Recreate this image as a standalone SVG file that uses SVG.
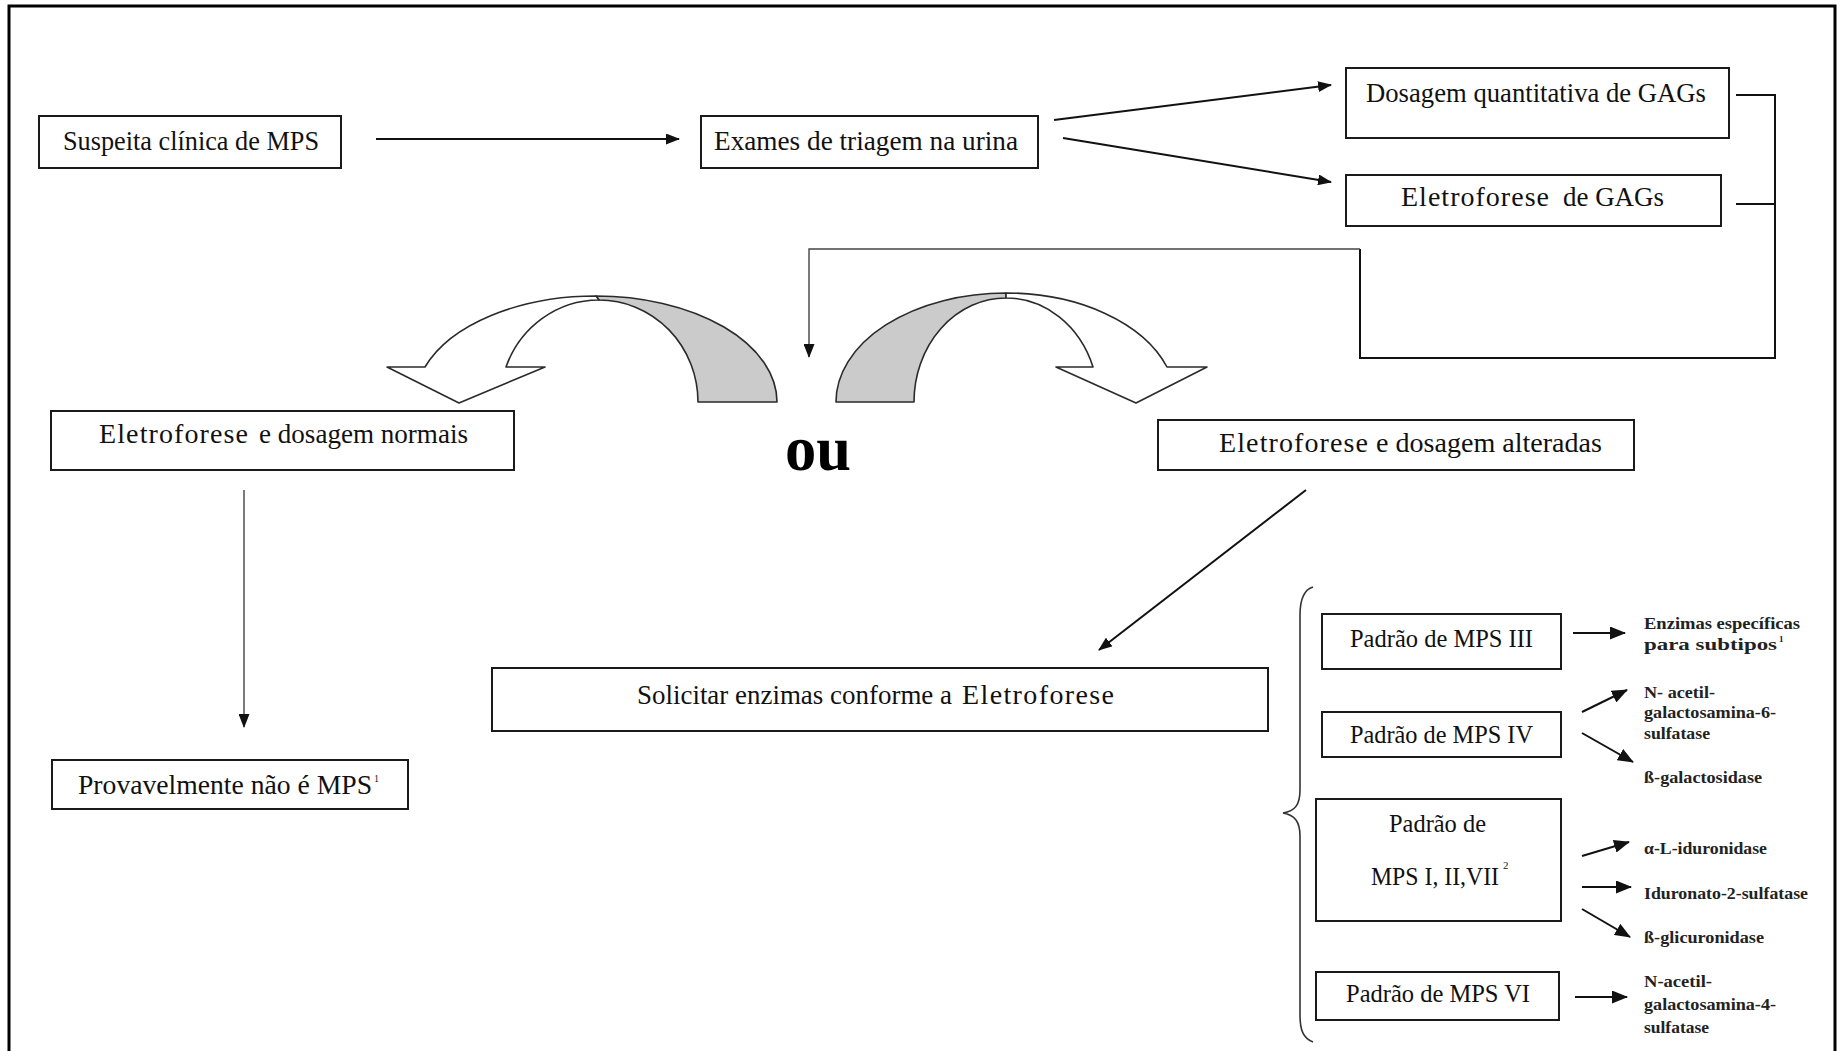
<svg xmlns="http://www.w3.org/2000/svg" width="1843" height="1051" viewBox="0 0 1843 1051">
<style>
.box{fill:#fff;stroke:#1a1a1a;stroke-width:2}
.t{font-family:"Liberation Serif","Times New Roman",serif;font-size:28px;fill:#111}
.p{font-family:"Liberation Serif","Times New Roman",serif;font-size:25px;fill:#111}
.s{font-family:"Liberation Serif","Times New Roman",serif;font-size:17px;font-weight:bold;fill:#222}
.sup{font-family:"Liberation Serif","Times New Roman",serif;fill:#222}
.ln{fill:none;stroke:#111;stroke-width:2}
.gl{fill:none;stroke:#444;stroke-width:1.4}
.cw{fill:#fff;stroke:#2a2a2a;stroke-width:1.6;stroke-linejoin:round}
.cg{fill:#cbcbcb;stroke:#2a2a2a;stroke-width:1.6;stroke-linejoin:round}
</style>
<defs>
<marker id="ah" markerUnits="userSpaceOnUse" markerWidth="14" markerHeight="11" refX="13" refY="5.5" orient="auto">
<path d="M0,0 L14,5.5 L0,11 z" fill="#111"/>
</marker>
<marker id="ahs" markerUnits="userSpaceOnUse" markerWidth="16" markerHeight="13" refX="15" refY="6.5" orient="auto">
<path d="M0,0 L16,6.5 L0,13 z" fill="#111"/>
</marker>
</defs>
<rect width="1843" height="1051" fill="#fff"/>
<path d="M9,1051 V6 H1835 V1051" fill="none" stroke="#000" stroke-width="3"/>

<g id="connectors">
<line class="ln" x1="376" y1="139" x2="679" y2="139" marker-end="url(#ah)"/>
<line class="ln" x1="1054" y1="120" x2="1331" y2="85" marker-end="url(#ah)"/>
<line class="ln" x1="1063" y1="138" x2="1331" y2="182" marker-end="url(#ah)"/>
<path class="ln" d="M1736,95 H1775 V358 H1360 V249"/>
<line class="ln" x1="1736" y1="204" x2="1775" y2="204"/>
<path class="gl" d="M1360,249 H809 V357" marker-end="url(#ah)"/>
<line class="gl" x1="244" y1="490" x2="244" y2="727" marker-end="url(#ah)"/>
<line class="ln" x1="1306" y1="490" x2="1099" y2="650" marker-end="url(#ah)"/>
<line class="ln" x1="1573" y1="633" x2="1625" y2="633" marker-end="url(#ahs)"/>
<line class="ln" x1="1582" y1="712" x2="1627" y2="690" marker-end="url(#ahs)"/>
<line class="ln" x1="1582" y1="733" x2="1633" y2="762" marker-end="url(#ahs)"/>
<line class="ln" x1="1582" y1="856" x2="1629" y2="842" marker-end="url(#ahs)"/>
<line class="ln" x1="1582" y1="887" x2="1631" y2="887" marker-end="url(#ahs)"/>
<line class="ln" x1="1582" y1="909" x2="1630" y2="937" marker-end="url(#ahs)"/>
<line class="ln" x1="1575" y1="997" x2="1627" y2="997" marker-end="url(#ahs)"/>
</g>

<g id="curved-left">
<path class="cg" d="M599,300 A99 102 0 0 1 698,402 L777,402 A181 106 0 0 0 596,296 Z"/>
<path class="cw" d="M506,367 L545,367 L459,403 L387,367 L425,367 A181 106 0 0 1 596,296 L599,300 A99 102 0 0 0 506,367 Z"/>
</g>
<g id="curved-right">
<path class="cg" d="M836,402 A170 109 0 0 1 1006,293 L1006,298 A92 104 0 0 0 914,402 Z"/>
<path class="cw" d="M1093,367 L1056,367 L1136,403 L1207,367 L1167,367 A170 109 0 0 0 1006,293 L1006,298 A92 104 0 0 1 1093,367 Z"/>
</g>

<g id="ou"><text x="785" y="470" font-family="Liberation Serif, Times New Roman, serif" font-size="64" font-weight="bold" fill="#000" textLength="66" lengthAdjust="spacingAndGlyphs">ou</text></g>

<g id="n-suspeita">
<rect class="box" x="39" y="116" width="302" height="52"/>
<text class="t" x="63" y="150" textLength="256" lengthAdjust="spacingAndGlyphs">Suspeita clínica de MPS</text>
</g>
<g id="n-exames">
<rect class="box" x="701" y="116" width="337" height="52"/>
<text class="t" x="714" y="150" textLength="304" lengthAdjust="spacingAndGlyphs">Exames de triagem na urina</text>
</g>
<g id="n-dosagem">
<rect class="box" x="1346" y="68" width="383" height="70"/>
<text class="t" x="1366" y="102" textLength="340" lengthAdjust="spacingAndGlyphs">Dosagem quantitativa de GAGs</text>
</g>
<g id="n-eletro-gags">
<rect class="box" x="1346" y="175" width="375" height="51"/>
<text class="t" x="1401" y="206" textLength="148" lengthAdjust="spacing">Eletroforese</text>
<text class="t" x="1563" y="206" textLength="101" lengthAdjust="spacingAndGlyphs">de GAGs</text>
</g>
<g id="n-normais">
<rect class="box" x="51" y="411" width="463" height="59"/>
<text class="t" x="99" y="443" textLength="149" lengthAdjust="spacing">Eletroforese</text>
<text class="t" x="259" y="443" textLength="209" lengthAdjust="spacingAndGlyphs">e dosagem normais</text>
</g>
<g id="n-alteradas">
<rect class="box" x="1158" y="420" width="476" height="50"/>
<text class="t" x="1219" y="452" textLength="149" lengthAdjust="spacing">Eletroforese</text>
<text class="t" x="1376" y="452" textLength="226" lengthAdjust="spacingAndGlyphs">e dosagem alteradas</text>
</g>
<g id="n-solicitar">
<rect class="box" x="492" y="668" width="776" height="63"/>
<text class="t" x="637" y="704" textLength="315" lengthAdjust="spacingAndGlyphs">Solicitar enzimas conforme a</text>
<text class="t" x="962" y="704" textLength="152" lengthAdjust="spacing">Eletroforese</text>
</g>
<g id="n-provavelmente">
<rect class="box" x="52" y="760" width="356" height="49"/>
<text class="t" x="78" y="794" textLength="294" lengthAdjust="spacingAndGlyphs">Provavelmente não é MPS</text>
<text class="sup" x="374" y="782" font-size="10">1</text>
</g>

<g id="brace">
<path fill="none" stroke="#333" stroke-width="1.6" d="M1313,587 C1303,590 1300,600 1300,615 L1300,790 C1300,805 1295,811 1283,813 C1295,815 1300,822 1300,836 L1300,1015 C1300,1030 1303,1038 1313,1042"/>
</g>

<g id="n-mps3">
<rect class="box" x="1322" y="614" width="239" height="55"/>
<text class="p" x="1350" y="647" textLength="183" lengthAdjust="spacingAndGlyphs">Padrão de MPS III</text>
</g>
<g id="n-mps4">
<rect class="box" x="1322" y="712" width="239" height="45"/>
<text class="p" x="1350" y="743" textLength="183" lengthAdjust="spacingAndGlyphs">Padrão de MPS IV</text>
</g>
<g id="n-mps127">
<rect class="box" x="1316" y="799" width="245" height="122"/>
<text class="p" x="1389" y="832" textLength="97" lengthAdjust="spacingAndGlyphs">Padrão de</text>
<text class="p" x="1371" y="885" textLength="128" lengthAdjust="spacingAndGlyphs">MPS I, II,VII</text>
<text class="sup" x="1503" y="869" font-size="11">2</text>
</g>
<g id="n-mps6">
<rect class="box" x="1316" y="972" width="243" height="48"/>
<text class="p" x="1346" y="1002" textLength="184" lengthAdjust="spacingAndGlyphs">Padrão de MPS VI</text>
</g>

<g id="e-mps3">
<text class="s" x="1644" y="629" textLength="156" lengthAdjust="spacingAndGlyphs">Enzimas específicas</text>
<text class="s" x="1644" y="650" textLength="133" lengthAdjust="spacingAndGlyphs">para subtipos</text>
<text class="sup" x="1779" y="642" font-size="9" font-weight="bold">1</text>
</g>
<g id="e-mps4a">
<text class="s" x="1644" y="698" textLength="71" lengthAdjust="spacingAndGlyphs">N- acetil-</text>
<text class="s" x="1644" y="718" textLength="132" lengthAdjust="spacingAndGlyphs">galactosamina-6-</text>
<text class="s" x="1644" y="739" textLength="66" lengthAdjust="spacingAndGlyphs">sulfatase</text>
</g>
<g id="e-mps4b"><text class="s" x="1644" y="783" textLength="118" lengthAdjust="spacingAndGlyphs">ß-galactosidase</text></g>
<g id="e-idu"><text class="s" x="1644" y="854" textLength="123" lengthAdjust="spacingAndGlyphs">α-L-iduronidase</text></g>
<g id="e-i2s"><text class="s" x="1644" y="899" textLength="164" lengthAdjust="spacingAndGlyphs">Iduronato-2-sulfatase</text></g>
<g id="e-glic"><text class="s" x="1644" y="943" textLength="120" lengthAdjust="spacingAndGlyphs">ß-glicuronidase</text></g>
<g id="e-mps6">
<text class="s" x="1644" y="987" textLength="68" lengthAdjust="spacingAndGlyphs">N-acetil-</text>
<text class="s" x="1644" y="1010" textLength="132" lengthAdjust="spacingAndGlyphs">galactosamina-4-</text>
<text class="s" x="1644" y="1033" textLength="65" lengthAdjust="spacingAndGlyphs">sulfatase</text>
</g>
</svg>
